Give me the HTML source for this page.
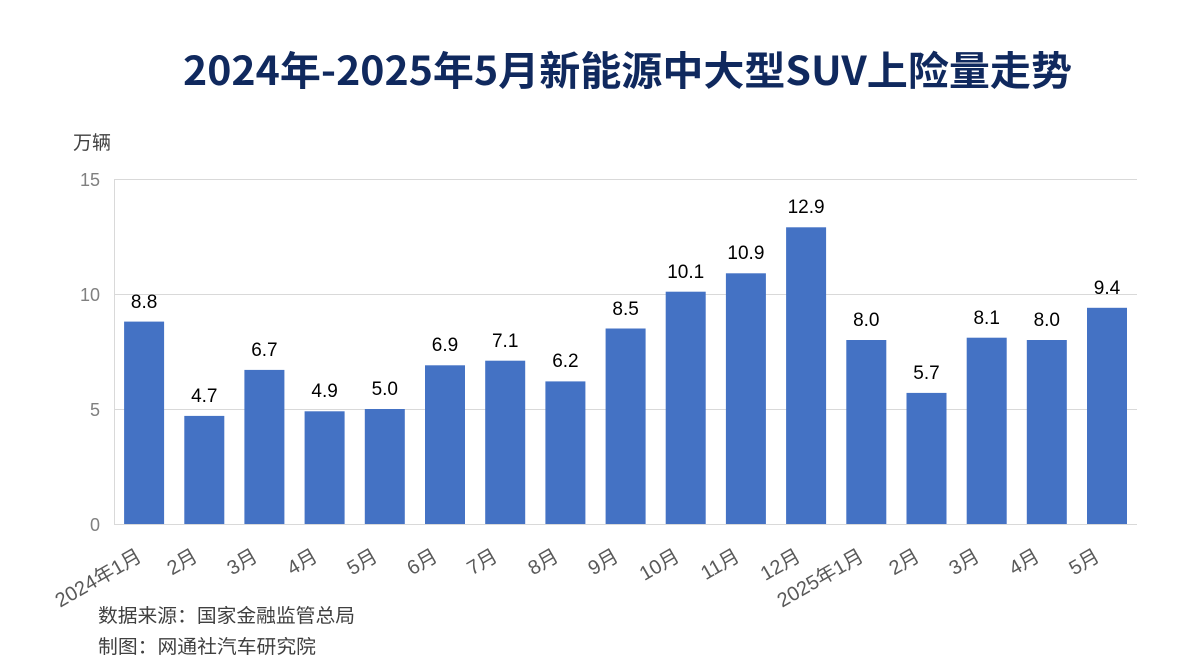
<!DOCTYPE html>
<html>
<head>
<meta charset="utf-8">
<style>
  html, body { margin: 0; padding: 0; background: #ffffff; }
  svg { display: block; }
  .t { font-family: "Liberation Sans", "Noto Sans CJK SC", sans-serif; }
</style>
</head>
<body>
<svg width="1195" height="670" viewBox="0 0 1195 670" xmlns="http://www.w3.org/2000/svg">
  <rect x="0" y="0" width="1195" height="670" fill="#ffffff"/>

  <!-- Title -->
  <text class="t" x="183" y="85" font-size="40" font-weight="bold" fill="#10295e" textLength="889" lengthAdjust="spacingAndGlyphs" style="font-family:'Noto Sans CJK SC','Liberation Sans',sans-serif;">2024年-2025年5月新能源中大型SUV上险量走势</text>

  <!-- Unit -->
  <text class="t" x="73" y="149" font-size="19" fill="#404040">万辆</text>

  <!-- Gridlines -->
  <g stroke="#d9d9d9" stroke-width="1">
    <line x1="114" y1="179.5" x2="1137" y2="179.5"/>
    <line x1="114" y1="294.5" x2="1137" y2="294.5"/>
    <line x1="114" y1="409.5" x2="1137" y2="409.5"/>
    <line x1="114.5" y1="179" x2="114.5" y2="524"/>
    <line x1="114" y1="524.5" x2="1137" y2="524.5"/>
  </g>

  <!-- Y tick labels -->
  <g class="t" font-size="18" fill="#808080" text-anchor="end">
    <text x="100" y="186">15</text>
    <text x="100" y="301">10</text>
    <text x="100" y="416">5</text>
    <text x="100" y="531">0</text>
  </g>

  <!-- Bars -->
  <g fill="#4472c4">
    <rect x="124.1" y="321.6" width="40" height="202.4"/>
    <rect x="184.3" y="415.9" width="40" height="108.1"/>
    <rect x="244.4" y="369.9" width="40" height="154.1"/>
    <rect x="304.6" y="411.3" width="40" height="112.7"/>
    <rect x="364.8" y="409.0" width="40" height="115.0"/>
    <rect x="425.0" y="365.3" width="40" height="158.7"/>
    <rect x="485.2" y="360.7" width="40" height="163.3"/>
    <rect x="545.4" y="381.4" width="40" height="142.6"/>
    <rect x="605.6" y="328.5" width="40" height="195.5"/>
    <rect x="665.7" y="291.7" width="40" height="232.3"/>
    <rect x="725.9" y="273.3" width="40" height="250.7"/>
    <rect x="786.1" y="227.3" width="40" height="296.7"/>
    <rect x="846.3" y="340.0" width="40" height="184.0"/>
    <rect x="906.5" y="392.9" width="40" height="131.1"/>
    <rect x="966.7" y="337.7" width="40" height="186.3"/>
    <rect x="1026.8" y="340.0" width="40" height="184.0"/>
    <rect x="1087.0" y="307.8" width="40" height="216.2"/>
  </g>

  <!-- Data labels -->
  <g class="t" font-size="19" fill="#000000" text-anchor="middle">
    <text x="144.1" y="308">8.8</text>
    <text x="204.3" y="402">4.7</text>
    <text x="264.4" y="356">6.7</text>
    <text x="324.6" y="397">4.9</text>
    <text x="384.8" y="395">5.0</text>
    <text x="445.0" y="351">6.9</text>
    <text x="505.2" y="347">7.1</text>
    <text x="565.4" y="367">6.2</text>
    <text x="625.6" y="315">8.5</text>
    <text x="685.7" y="278">10.1</text>
    <text x="745.9" y="259">10.9</text>
    <text x="806.1" y="213">12.9</text>
    <text x="866.3" y="326">8.0</text>
    <text x="926.5" y="379">5.7</text>
    <text x="986.7" y="324">8.1</text>
    <text x="1046.8" y="326">8.0</text>
    <text x="1107.0" y="294">9.4</text>
  </g>

  <!-- X labels -->
  <g class="t" font-size="20" fill="#595959" text-anchor="end">
    <text transform="translate(143,560) rotate(-30)">2024年1月</text>
    <text transform="translate(199,560) rotate(-30)">2月</text>
    <text transform="translate(259,560) rotate(-30)">3月</text>
    <text transform="translate(319,560) rotate(-30)">4月</text>
    <text transform="translate(379,560) rotate(-30)">5月</text>
    <text transform="translate(439,560) rotate(-30)">6月</text>
    <text transform="translate(499,560) rotate(-30)">7月</text>
    <text transform="translate(560,560) rotate(-30)">8月</text>
    <text transform="translate(620,560) rotate(-30)">9月</text>
    <text transform="translate(681,560) rotate(-30)">10月</text>
    <text transform="translate(741,560) rotate(-30)">11月</text>
    <text transform="translate(802,560) rotate(-30)">12月</text>
    <text transform="translate(865,560) rotate(-30)">2025年1月</text>
    <text transform="translate(921,560) rotate(-30)">2月</text>
    <text transform="translate(981,560) rotate(-30)">3月</text>
    <text transform="translate(1041,560) rotate(-30)">4月</text>
    <text transform="translate(1101,560) rotate(-30)">5月</text>
  </g>

  <!-- Footer -->
  <text class="t" x="98" y="622" font-size="19" fill="#404040" textLength="257" lengthAdjust="spacingAndGlyphs">数据来源：国家金融监管总局</text>
  <text class="t" x="98" y="653" font-size="19" fill="#404040" textLength="218" lengthAdjust="spacingAndGlyphs">制图：网通社汽车研究院</text>
</svg>
</body>
</html>
